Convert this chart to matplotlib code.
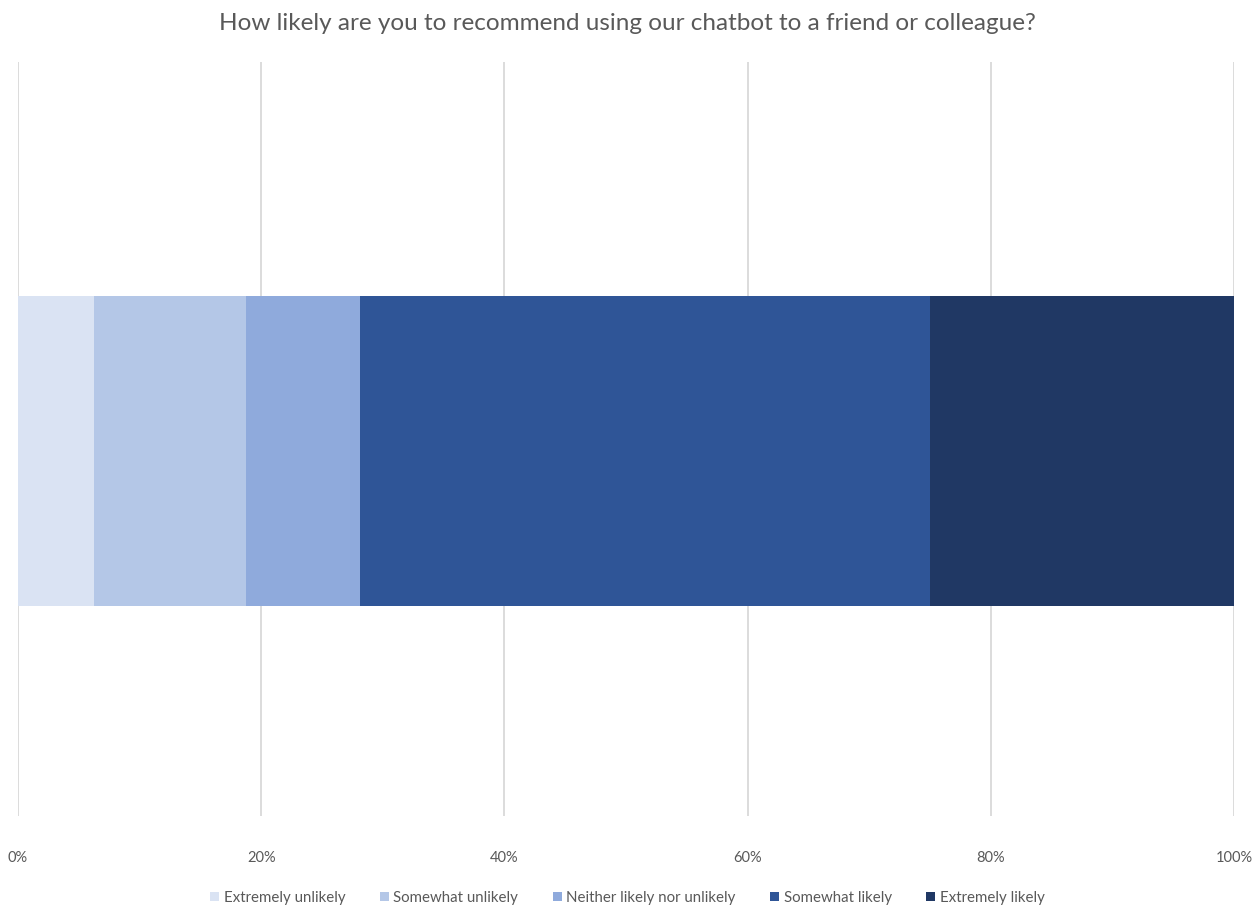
import matplotlib.pyplot as plt
from matplotlib.ticker import FuncFormatter

# survey answers (share of respondents, %)
labels = ["Extremely unlikely", "Somewhat unlikely", "Neither likely nor unlikely",
          "Somewhat likely", "Extremely likely"]
shares = [6.25, 12.5, 9.375, 46.875, 25.0]
colors = ["#DAE3F3", "#B4C7E7", "#8FAADC", "#2F5597", "#203864"]

plt.rcParams['font.family'] = ['Lato', 'DejaVu Sans']

fig = plt.figure(figsize=(12.55, 9.06), dpi=100)
ax = fig.add_axes([18 / 1255, 1 - 816 / 906, 1216 / 1255, 754 / 906])

left = 0
for lab, val, col in zip(labels, shares, colors):
    ax.barh(0, val, left=left, height=310 / 754, color=col, label=lab, zorder=3)
    left += val

ax.set_xlim(0, 100)
ax.set_ylim(-365 / 754, 389 / 754)
ax.set_xticks(range(0, 101, 20))
ax.xaxis.set_major_formatter(FuncFormatter(lambda v, p: "{:.0f}%".format(v)))
ax.set_yticks([])
ax.grid(axis='x', color='#D9D9D9', linewidth=1.3, zorder=0)
ax.tick_params(axis='x', length=0, pad=25, labelsize=10.5, labelcolor='#595959')
for s in ax.spines.values():
    s.set_visible(False)

fig.text(0.5, 1 - 24 / 906, "How likely are you to recommend using our chatbot to a friend or colleague?",
         ha='center', va='center', fontsize=17.5, color='#595959')

fig.legend(loc='center', bbox_to_anchor=(0.5, 1 - 898 / 906), ncol=5, frameon=False,
           fontsize=10.8, handlelength=0.6, handleheight=0.6, handletextpad=0.3,
           columnspacing=2.3, labelcolor='#595959')

fig.savefig("out.png", dpi=100)
plt.close()
